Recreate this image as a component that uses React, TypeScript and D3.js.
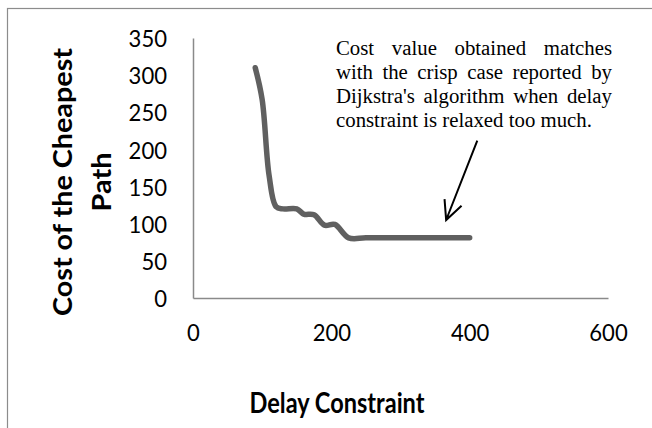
import { useEffect, useRef } from 'react';
import * as d3 from 'd3';

const delay = [90, 100, 110, 120, 130, 150, 160, 175, 190, 205, 225, 250, 300, 350, 400];
const cost = [310, 267, 165, 123, 120, 120, 113, 112, 98, 99, 81, 81, 81, 81, 81];
const xTicks = [0, 200, 400, 600];
const yTicks = [0, 50, 100, 150, 200, 250, 300, 350];
const annotationLines = [
  'Cost value obtained matches',
  'with the crisp case reported by',
  "Dijkstra's algorithm when delay",
  'constraint is relaxed too much.',
];
// arrow in data units: tail -> head
const arrowFrom: [number, number] = [411, 212];
const arrowTo: [number, number] = [366, 105];

const W = 652;
const H = 428;

export default function App() {
  const svgRef = useRef<SVGSVGElement>(null);

  useEffect(() => {
    if (!svgRef.current) return;
    const svg = d3.select(svgRef.current);
    svg.selectAll('*').remove();

    const x = d3.scaleLinear().domain([0, 600]).range([193, 608]);
    const y = d3.scaleLinear().domain([0, 350]).range([298, 38]);
    const font = 'Lato, "Open Sans", sans-serif';

    // chart frame
    svg.append('rect')
      .attr('x', 7.5).attr('y', 8.5)
      .attr('width', W + 20).attr('height', H + 20)
      .attr('fill', 'none')
      .attr('stroke', '#8c8c8c')
      .attr('stroke-width', 1.2);

    const xAxis = svg.append('g')
      .attr('transform', `translate(0,${y(0)})`)
      .call(d3.axisBottom(x).tickValues(xTicks).tickSize(0).tickSizeOuter(0).tickFormat(d3.format('d')));
    xAxis.selectAll('text')
      .attr('y', 34).attr('dy', '0.36em');

    const yAxis = svg.append('g')
      .attr('transform', `translate(${x(0)},0)`)
      .call(d3.axisLeft(y).tickValues(yTicks).tickSize(0).tickSizeOuter(0).tickPadding(26).tickFormat(d3.format('d')));
    yAxis.selectAll('text').attr('dy', '0.36em');

    svg.selectAll('.domain').attr('stroke', '#8a8a8a').attr('stroke-width', 1.5);
    svg.selectAll('.tick text')
      .style('font-family', font)
      .style('font-size', '24px')
      .style('fill', '#000')
      .attr('textLength', function () {
        const t = (this as SVGTextElement).textContent || '';
        return t.length * 12.8;
      })
      .attr('lengthAdjust', 'spacingAndGlyphs');

    // the series
    const line = d3.line<number>()
      .x((_, i) => x(delay[i]))
      .y(d => y(d))
      .curve(d3.curveCatmullRom.alpha(0.5));

    svg.append('path')
      .datum(cost)
      .attr('d', line)
      .attr('fill', 'none')
      .attr('stroke', '#606060')
      .attr('stroke-width', 5.5)
      .attr('stroke-linecap', 'round')
      .attr('stroke-linejoin', 'round');

    // axis titles
    svg.append('text')
      .attr('x', 337).attr('y', 413)
      .attr('text-anchor', 'middle')
      .attr('textLength', 175)
      .attr('lengthAdjust', 'spacingAndGlyphs')
      .style('font-family', font)
      .style('font-weight', 700)
      .style('font-size', '29px')
      .text('Delay Constraint');

    const yTitle = svg.append('g').attr('transform', 'translate(0,182) rotate(-90)');
    yTitle.append('text')
      .attr('x', 0).attr('y', 72)
      .attr('text-anchor', 'middle')
      .attr('textLength', 268)
      .attr('lengthAdjust', 'spacingAndGlyphs')
      .style('font-family', font)
      .style('font-weight', 700)
      .style('font-size', '26px')
      .text('Cost of the Cheapest');
    yTitle.append('text')
      .attr('x', 0).attr('y', 111)
      .attr('text-anchor', 'middle')
      .attr('textLength', 59)
      .attr('lengthAdjust', 'spacingAndGlyphs')
      .style('font-family', font)
      .style('font-weight', 700)
      .style('font-size', '26px')
      .text('Path');

    // annotation, justified by hand
    const left = 336;
    const right = 612;
    const note = svg.append('g')
      .style('font-family', '"Liberation Serif", "Times New Roman", serif')
      .style('font-size', '20.8px')
      .style('fill', '#000');
    const probe = note.append('text').text('a b');
    const spaceW = (probe.node() as SVGTextElement).getComputedTextLength()
      - (() => { probe.text('ab'); return (probe.node() as SVGTextElement).getComputedTextLength(); })();
    probe.remove();

    annotationLines.forEach((ln, li) => {
      const words = ln.split(' ');
      const baseline = 55 + li * 24;
      const nodes = words.map(w => note.append('text').attr('y', baseline).text(w));
      const widths = nodes.map(n => (n.node() as SVGTextElement).getComputedTextLength());
      const total = d3.sum(widths);
      const last = li === annotationLines.length - 1;
      const gap = last ? spaceW : (right - left - total) / (words.length - 1);
      let cx = left;
      nodes.forEach((n, i) => {
        n.attr('x', cx);
        cx += widths[i] + gap;
      });
    });

    // arrow
    const [x1, y1] = [x(arrowFrom[0]), y(arrowFrom[1])];
    const [x2, y2] = [x(arrowTo[0]), y(arrowTo[1])];
    const ang = Math.atan2(y1 - y2, x1 - x2);
    const head = 21;
    const spread = 0.45;
    svg.append('path')
      .attr('d', `M${x1},${y1}L${x2},${y2}`
        + `M${x2 + head * Math.cos(ang - spread)},${y2 + head * Math.sin(ang - spread)}L${x2},${y2}`
        + `L${x2 + head * Math.cos(ang + spread)},${y2 + head * Math.sin(ang + spread)}`)
      .attr('fill', 'none')
      .attr('stroke', '#000')
      .attr('stroke-width', 2);
  }, []);

  return (
    <svg
      ref={svgRef}
      width={W}
      height={H}
      style={{ position: 'absolute', left: 0, top: 0, background: '#fff' }}
    />
  );
}
